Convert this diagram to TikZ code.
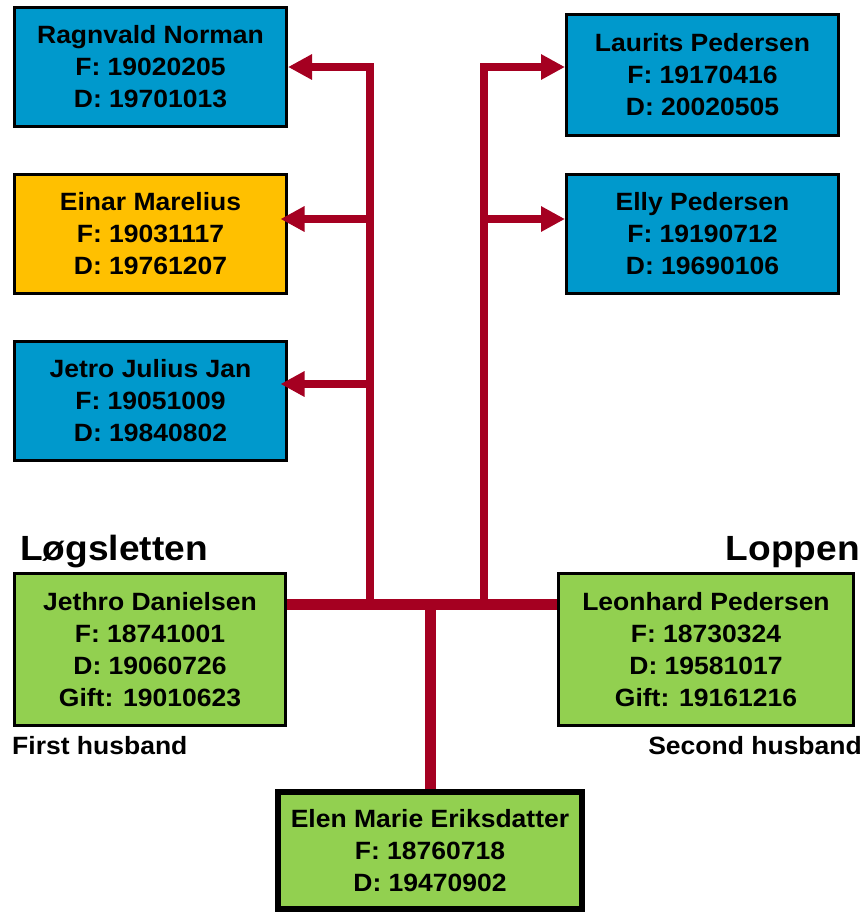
\documentclass[tikz,border=0pt]{standalone}
\usepackage{fontspec}
\setmainfont{Liberation Sans}[FakeStretch=1.06]
\usetikzlibrary{arrows.meta}
\definecolor{famblue}{HTML}{0099CC}
\definecolor{famorange}{HTML}{FFC000}
\definecolor{famgreen}{HTML}{92D050}
\definecolor{famred}{HTML}{A50021}
\begin{document}
\begin{tikzpicture}
      [x=1pt,y=-1pt,>={Triangle[length=24pt,width=24pt]},
      person/.style={rectangle,draw=black,line width=3pt,inner sep=0pt,
      minimum width=272pt,minimum height=119pt,align=center,
      font=\bfseries\fontsize{25}{32}\selectfont},
      child node/.style={person,fill=famblue},
      step node/.style={person,fill=famorange},
      spouse node/.style={person,fill=famgreen,minimum height=152pt},
      place label/.style={inner sep=0pt,font=\bfseries\fontsize{35}{40}\selectfont},
      role label/.style={inner sep=0pt,font=\bfseries\fontsize{25}{32}\selectfont},
      trunk/.style={draw=famred,line width=11pt},
      branch/.style={draw=famred,line width=8pt,line join=miter}]
      \useasboundingbox (0,0) rectangle (866,914);
      \node[child node] (rn) at (150.5,67) {Ragnvald Norman\\F: 19020205\\D: 19701013};
      \node[step node] (em) at (150.5,234) {Einar Marelius\\F: 19031117\\D: 19761207};
      \node[child node] (jj) at (150.5,401) {Jetro Julius Jan\\F: 19051009\\D: 19840802};
      \node[child node,minimum height=121pt] (lp) at (702.5,75) {Laurits Pedersen\\F: 19170416\\D: 20020505};
      \node[child node] (ep) at (702.5,234) {Elly Pedersen\\F: 19190712\\D: 19690106};
      \node[spouse node,minimum width=271pt] (jd) at (150,649.5) {Jethro Danielsen\\F: 18741001\\D: 19060726\\Gift: 19010623};
      \node[spouse node,minimum width=295pt] (lh) at (706,649.5) {Leonhard Pedersen\\F: 18730324\\D: 19581017\\Gift: 19161216};
      \node[person,fill=famgreen,line width=6pt,minimum width=304pt,minimum height=117pt] (el) at (430,850.5) {Elen Marie Eriksdatter\\F: 18760718\\D: 19470902};
      \node[place label,anchor=base west] (ls) at (20,560) {Løgsletten};
      \node[place label,anchor=base east] (lo) at (860,560) {Loppen};
      \node[role label,anchor=base west] (fh) at (12,754) {First husband};
      \node[role label,anchor=base east] (sh) at (862,754) {Second husband};
      \coordinate (hub) at (430,604);
      \coordinate (lfoot) at (370,604);
      \coordinate (rfoot) at (483.5,604);
      \coordinate (ltop) at (370,67);
      \coordinate (rtop) at (483.5,67);
      \coordinate (lmid) at (370,219);
      \coordinate (llow) at (370,384);
      \coordinate (rmid) at (483.5,219);
      \draw[trunk] (jd.east |- hub) -- (lh.west |- hub);
      \draw[trunk] (hub) -- (el.north);
      \draw[branch,->] (lfoot) -- (ltop) -- (rn.east |- ltop);
      \draw[branch,->,shorten >=-7.5pt] (lmid) -- (em.east |- lmid);
      \draw[branch,->,shorten >=-7.5pt] (llow) -- (jj.east |- llow);
      \draw[branch,->] (rfoot) -- (rtop) -- (lp.west |- rtop);
      \draw[branch,->] (rmid) -- (ep.west |- rmid);
    \end{tikzpicture}
\end{document}
